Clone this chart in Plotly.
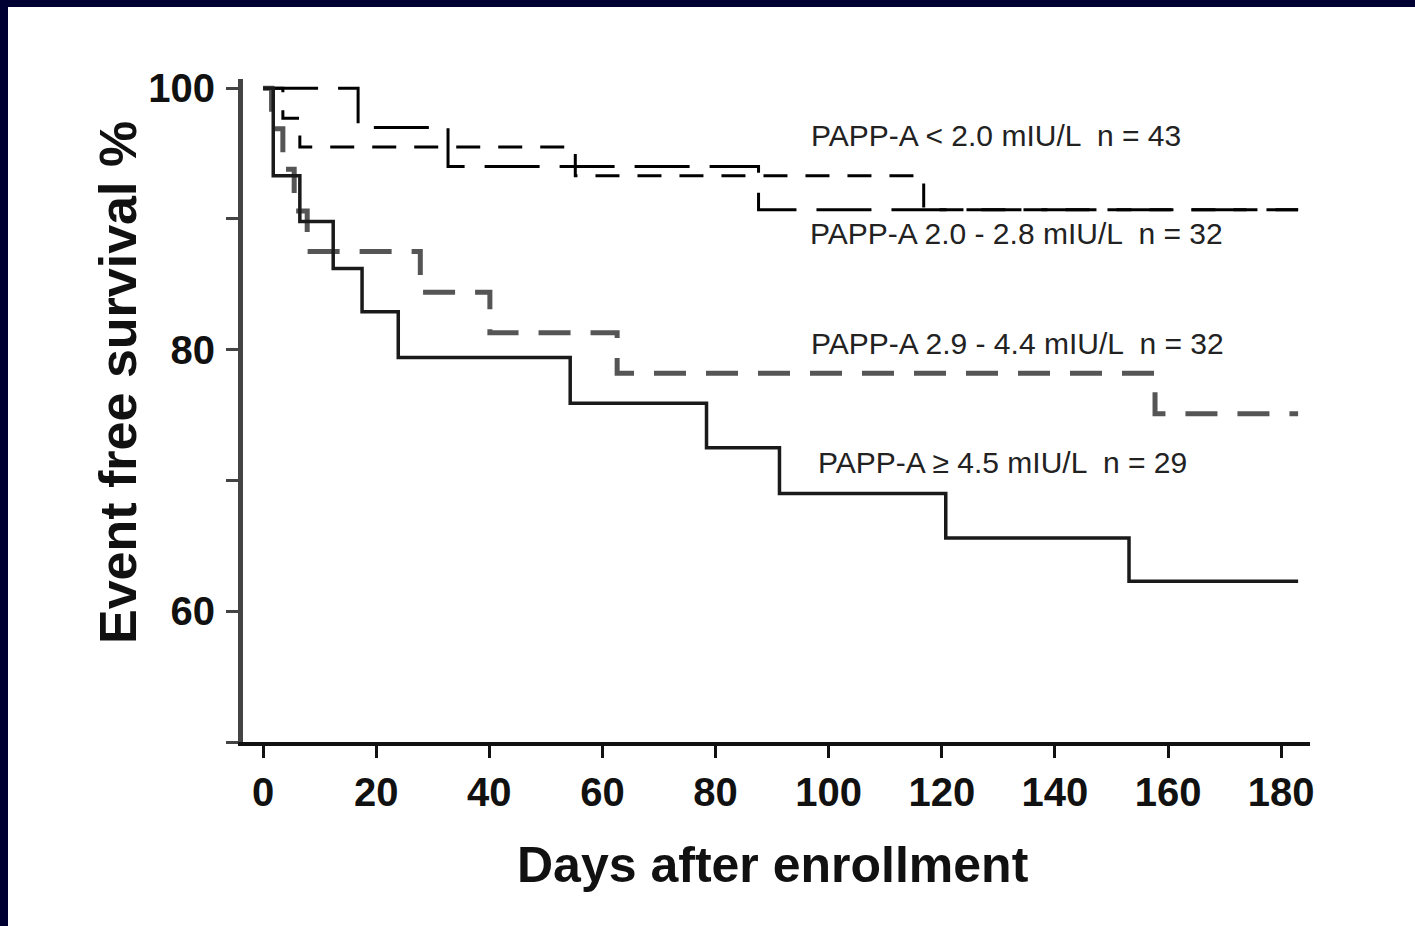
import plotly.graph_objects as go

# Kaplan-Meier step data: event-free survival (%) by PAPP-A group
days_lt20 = [0, 3.5, 6.5, 55.2, 116.8, 183]
surv_lt20 = [100, 97.7, 95.5, 93.3, 90.7, 90.7]

days_20_28 = [0, 16.8, 32.7, 87.6, 183]
surv_20_28 = [100, 97.0, 94.0, 90.7, 90.7]

days_29_44 = [0, 1.5, 3.5, 5.5, 7.8, 27.8, 40.1, 62.6, 157.7, 183]
surv_29_44 = [100, 96.9, 93.8, 90.6, 87.5, 84.4, 81.3, 78.2, 75.1, 75.1]

days_ge45 = [0, 1.8, 6.5, 12.4, 17.5, 23.9, 54.3, 78.4, 91.3, 120.7, 153.1, 183]
surv_ge45 = [100, 93.3, 89.8, 86.2, 82.9, 79.4, 75.9, 72.5, 69.0, 65.6, 62.3, 62.3]

group_labels = [
    "PAPP-A &lt; 2.0 mIU/L  n = 43",
    "PAPP-A 2.0 - 2.8 mIU/L  n = 32",
    "PAPP-A 2.9 - 4.4 mIU/L  n = 32",
    "PAPP-A \u2265 4.5 mIU/L  n = 29",
]
label_pos = [(96.6, 96.4), (96.3, 88.9), (96.6, 80.5), (97.7, 71.4)]

x_ticks = [0, 20, 40, 60, 80, 100, 120, 140, 160, 180]

W, H = 1415, 926
ML, MR, MT, MB = 243, 105, 79, 184
PW, PH = W - ML - MR, H - MT - MB


def px_x(px):
    return (px - ML) / PW


def px_y(py):
    return (H - MB - py) / PH


NAVY = "#000033"
FONT = "Liberation Sans, Arial, sans-serif"

fig = go.Figure()

series = [
    (days_lt20, surv_lt20, dict(color="#000000", width=3, dash="24px,18px")),
    (days_20_28, surv_20_28, dict(color="#000000", width=3, dash="55px,20px")),
    (days_29_44, surv_29_44, dict(color="#555555", width=5, dash="32px,20px")),
    (days_ge45, surv_ge45, dict(color="#1a1a1a", width=3.5, dash="solid")),
]
for d, s, ln in series:
    fig.add_trace(go.Scatter(x=d, y=s, mode="lines", line=dict(shape="hv", **ln),
                             showlegend=False, hoverinfo="skip"))

for txt, (lx, ly) in zip(group_labels, label_pos):
    fig.add_annotation(x=lx, y=ly, xref="x", yref="y", text=txt, showarrow=False,
                       xanchor="left", yanchor="middle",
                       font=dict(family=FONT, size=30, color="#222222"))

# axis titles
fig.add_annotation(x=px_x(773), y=px_y(865), xref="paper", yref="paper",
                   text="<b>Days after enrollment</b>", showarrow=False,
                   xanchor="center", yanchor="middle",
                   font=dict(family=FONT, size=50, color="#111111"))
fig.add_annotation(x=px_x(118), y=px_y(383), xref="paper", yref="paper",
                   text="<b>Event free survival %</b>", showarrow=False, textangle=-90,
                   xanchor="center", yanchor="middle",
                   font=dict(family=FONT, size=52, color="#111111"))

# dark frame along the top and left edges
fig.add_shape(type="rect", xref="paper", yref="paper",
              x0=px_x(0), x1=px_x(8), y0=px_y(H), y1=px_y(0),
              fillcolor=NAVY, line=dict(width=0))
fig.add_shape(type="rect", xref="paper", yref="paper",
              x0=px_x(0), x1=px_x(W), y0=px_y(7), y1=px_y(0),
              fillcolor=NAVY, line=dict(width=0))

fig.update_xaxes(range=[-3.55, 185.1], tickvals=x_ticks, ticks="outside", ticklen=12,
                 tickwidth=3, tickcolor="#111111", showline=True, linewidth=4,
                 linecolor="#111111", showgrid=False, zeroline=False,
                 ticklabelstandoff=0,
                 tickfont=dict(family=FONT, size=40, color="#111111", weight="bold"))
fig.update_yaxes(range=[50, 100.7], tickvals=[60, 80, 100], ticks="outside", ticklen=12,
                 tickwidth=3, tickcolor="#444444", showline=True, linewidth=5,
                 linecolor="#444444", showgrid=False, zeroline=False,
                 ticklabelstandoff=3,
                 minor=dict(tickvals=[50, 70, 90], ticks="outside", ticklen=12,
                            tickwidth=3, tickcolor="#444444"),
                 tickfont=dict(family=FONT, size=40, color="#111111", weight="bold"))

fig.update_layout(width=W, height=H, margin=dict(l=ML, r=MR, t=MT, b=MB),
                  paper_bgcolor="white", plot_bgcolor="white")

fig.write_html("out.html")
